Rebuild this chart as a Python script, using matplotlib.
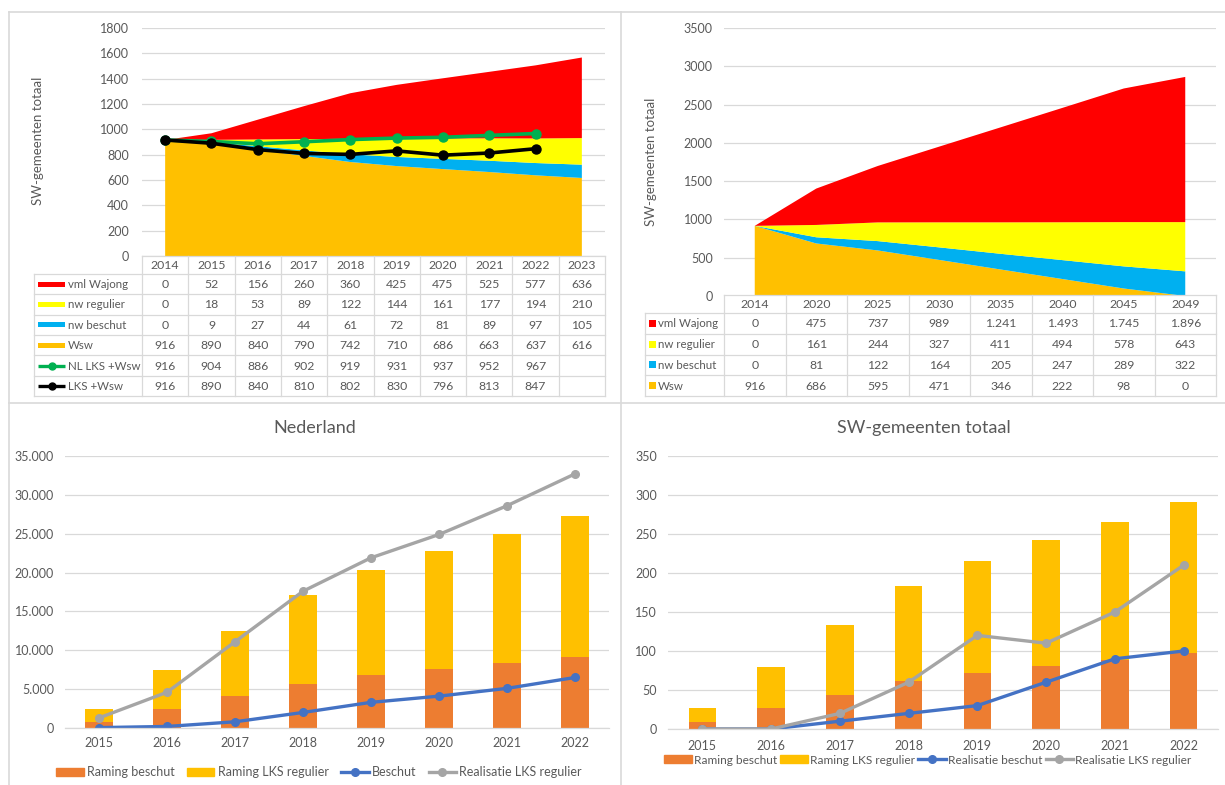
import numpy as np
import matplotlib
matplotlib.use("Agg")
import matplotlib.pyplot as plt
from matplotlib.lines import Line2D
from matplotlib.patches import Rectangle

W, H = 1225, 785
plt.rcParams['font.family'] = ['Lato', 'DejaVu Sans']

GRID = '#d9d9d9'
TXT = '#595959'
RED, YEL, BLUE, GOLD = '#FF0000', '#FFFF00', '#00B0F0', '#FFC000'
ORANGE, LBLUE, GREY = '#ED7D31', '#4472C4', '#A5A5A5'

# --- top left: SW-gemeenten totaal t/m 2023
years_tl = ['2014', '2015', '2016', '2017', '2018', '2019', '2020', '2021', '2022', '2023']
wajong_tl = [0, 52, 156, 260, 360, 425, 475, 525, 577, 636]
regulier_tl = [0, 18, 53, 89, 122, 144, 161, 177, 194, 210]
beschut_tl = [0, 9, 27, 44, 61, 72, 81, 89, 97, 105]
wsw_tl = [916, 890, 840, 790, 742, 710, 686, 663, 637, 616]
nl_lks_wsw = [916, 904, 886, 902, 919, 931, 937, 952, 967, None]
lks_wsw = [916, 890, 840, 810, 802, 830, 796, 813, 847, None]

# --- top right: SW-gemeenten totaal t/m 2049
years_tr = ['2014', '2020', '2025', '2030', '2035', '2040', '2045', '2049']
wajong_tr = [0, 475, 737, 989, 1241, 1493, 1745, 1896]
regulier_tr = [0, 161, 244, 327, 411, 494, 578, 643]
beschut_tr = [0, 81, 122, 164, 205, 247, 289, 322]
wsw_tr = [916, 686, 595, 471, 346, 222, 98, 0]

# --- bottom: raming vs realisatie
years_b = ['2015', '2016', '2017', '2018', '2019', '2020', '2021', '2022']
nl_raming_beschut = [800, 2500, 4100, 5700, 6800, 7600, 8300, 9100]
nl_raming_regulier = [1700, 4900, 8400, 11400, 13500, 15200, 16700, 18200]
nl_beschut = [50, 200, 800, 2000, 3300, 4100, 5100, 6500]
nl_realisatie = [1300, 4600, 11100, 17600, 21900, 24900, 28600, 32700]

sw_raming_beschut = [9, 27, 44, 61, 72, 81, 89, 97]
sw_raming_regulier = [18, 53, 89, 122, 144, 161, 177, 194]
sw_real_beschut = [0, 0, 10, 20, 30, 60, 90, 100]
sw_real_regulier = [0, 0, 20, 60, 120, 110, 150, 210]


def nl_fmt(v):
    return f"{v:,}".replace(",", ".")


def px_axes(fig, x0, y0, x1, y1):
    return fig.add_axes([x0 / W, 1 - y1 / H, (x1 - x0) / W, (y1 - y0) / H])


def style_chart(ax, ypad, xpad=7):
    for s in ax.spines.values():
        s.set_visible(False)
    ax.grid(axis='y', color=GRID, lw=0.9)
    ax.set_axisbelow(True)
    ax.tick_params(length=0, labelsize=9, labelcolor=TXT)
    ax.tick_params(axis='y', pad=ypad)
    ax.tick_params(axis='x', pad=xpad)


def data_table(fig, x_leg, x0, x1, y0, y1, header_h, col_labels, rows, sym_kind):
    # rows: (name, values, colour, marker-line?)
    n = len(col_labels)
    col_w = (x1 - x0) / n
    leg_u = (x0 - x_leg) / col_w
    ax = px_axes(fig, x_leg, y0, x1, y1)
    ax.set_xlim(-0.5 - leg_u, n - 0.5)
    ax.set_ylim(y1 - y0, 0)
    ax.axis('off')
    row_h = (y1 - y0 - header_h) / len(rows)
    left = -0.5 - leg_u
    kw = dict(color=GRID, lw=0.9, clip_on=False)
    ax.plot([-0.5, n - 0.5], [0, 0], **kw)
    for r in range(len(rows) + 1):
        yy = header_h + r * row_h
        ax.plot([left, n - 0.5], [yy, yy], **kw)
    ax.plot([left, left], [header_h, y1 - y0], **kw)
    for k in range(n + 1):
        ax.plot([k - 0.5, k - 0.5], [0, y1 - y0], **kw)
    for i, lab in enumerate(col_labels):
        ax.text(i, header_h / 2 + 0.5, lab, ha='center', va='center', fontsize=8.8, color=TXT)
    for r, (name, vals, col, line) in enumerate(rows):
        yc = header_h + (r + 0.5) * row_h
        if sym_kind == 'long':
            sx0, sx1, tx = left + 4 / col_w, left + 31 / col_w, left + 34 / col_w
            if line:
                ax.plot([sx0, sx1], [yc, yc], color=col, lw=2.4, solid_capstyle='butt')
                ax.plot([(sx0 + sx1) / 2], [yc], 'o', color=col, ms=5)
            else:
                ax.add_patch(Rectangle((sx0, yc - 2.5), sx1 - sx0, 5, color=col, lw=0))
        else:
            sx0, tx = left + 4 / col_w, left + 13 / col_w
            ax.add_patch(Rectangle((sx0, yc - 3.5), 7 / col_w, 7, color=col, lw=0))
        ax.text(tx, yc + 0.5, name, ha='left', va='center', fontsize=8.3, color=TXT)
        for i, v in enumerate(vals):
            if v is None:
                continue
            ax.text(i, yc + 0.5, nl_fmt(v), ha='center', va='center', fontsize=8.8, color=TXT)


fig = plt.figure(figsize=(W / 100, H / 100), dpi=100)
fig.patch.set_facecolor('white')

# panel borders
border = fig.add_axes([0, 0, 1, 1], zorder=-5)
border.set_xlim(0, W)
border.set_ylim(H, 0)
border.axis('off')
bk = dict(color=GRID, lw=1.2)
border.plot([9, W], [12, 12], **bk)
border.plot([9, 9], [12, H], **bk)
border.plot([621, 621], [12, H], **bk)
border.plot([9, W], [403, 403], **bk)

# ---------- top left
ax1 = px_axes(fig, 142, 28, 605, 256)
x1 = np.arange(len(years_tl))
ax1.stackplot(x1, wsw_tl, beschut_tl, regulier_tl, wajong_tl,
              colors=[GOLD, BLUE, YEL, RED], lw=0)
ax1.plot(x1, np.array(nl_lks_wsw, dtype=float), '-o', color='#00B050', lw=2.6, ms=6.5)
ax1.plot(x1, np.array(lks_wsw, dtype=float), '-o', color='black', lw=2.6, ms=6.5)
ax1.set_xlim(-0.5, len(years_tl) - 0.5)
ax1.set_ylim(0, 1800)
ax1.set_yticks(range(0, 1801, 200))
ax1.set_xticks([])
style_chart(ax1, 9.4)
fig.text(38 / W, 1 - 141 / H, 'SW-gemeenten totaal', rotation=90, ha='center', va='center',
         fontsize=9.5, color=TXT)
data_table(fig, 34, 142, 605, 256, 396, 18, years_tl, [
    ('vml Wajong', wajong_tl, RED, False),
    ('nw regulier', regulier_tl, YEL, False),
    ('nw beschut', beschut_tl, BLUE, False),
    ('Wsw', wsw_tl, GOLD, False),
    ('NL LKS +Wsw', nl_lks_wsw, '#00B050', True),
    ('LKS +Wsw', lks_wsw, 'black', True),
], 'long')

# ---------- top right
ax2 = px_axes(fig, 724, 28, 1216, 296)
x2 = np.arange(len(years_tr))
ax2.stackplot(x2, wsw_tr, beschut_tr, regulier_tr, wajong_tr,
              colors=[GOLD, BLUE, YEL, RED], lw=0)
ax2.set_xlim(-0.5, len(years_tr) - 0.5)
ax2.set_ylim(0, 3500)
ax2.set_yticks(range(0, 3501, 500))
ax2.set_xticks([])
style_chart(ax2, 8)
fig.text(651 / W, 1 - 162 / H, 'SW-gemeenten totaal', rotation=90, ha='center', va='center',
         fontsize=9.5, color=TXT)
data_table(fig, 645, 724, 1216, 295, 396, 18, years_tr, [
    ('vml Wajong', wajong_tr, RED, False),
    ('nw regulier', regulier_tr, YEL, False),
    ('nw beschut', beschut_tr, BLUE, False),
    ('Wsw', wsw_tr, GOLD, False),
], 'square')


# ---------- bottom
def bar_line_chart(ax, beschut, regulier, line1, line2, ymax, step, fmt, xpad):
    xb = np.arange(len(years_b))
    ax.bar(xb, beschut, width=0.4, color=ORANGE)
    ax.bar(xb, regulier, width=0.4, bottom=beschut, color=GOLD)
    ax.plot(xb, line1, '-o', color=LBLUE, lw=2.4, ms=5.5)
    ax.plot(xb, line2, '-o', color=GREY, lw=2.4, ms=5.5)
    ax.set_xlim(-0.5, len(years_b) - 0.5)
    ax.set_ylim(0, ymax)
    ax.set_yticks(range(0, ymax + 1, step))
    ax.set_yticklabels([fmt(v) for v in range(0, ymax + 1, step)])
    ax.set_xticks(xb)
    ax.set_xticklabels(years_b)
    style_chart(ax, 8, xpad)
    ax.spines['bottom'].set_visible(True)
    ax.spines['bottom'].set_color(GRID)
    ax.spines['bottom'].set_linewidth(0.9)


def legend_handles(line1_name):
    return [Rectangle((0, 0), 1, 1, color=ORANGE), Rectangle((0, 0), 1, 1, color=GOLD),
            Line2D([], [], color=LBLUE, lw=2.4, marker='o', ms=5.5),
            Line2D([], [], color=GREY, lw=2.4, marker='o', ms=5.5)], \
        ['Raming beschut', 'Raming LKS regulier', line1_name, 'Realisatie LKS regulier']


ax3 = px_axes(fig, 65, 456, 609, 728)
bar_line_chart(ax3, nl_raming_beschut, nl_raming_regulier, nl_beschut, nl_realisatie,
               35000, 5000, nl_fmt, 6.5)
fig.text(315 / W, 1 - 428 / H, 'Nederland', ha='center', va='center', fontsize=13, color=TXT)
h, l = legend_handles('Beschut')
fig.legend(h, l, loc='center', bbox_to_anchor=(319 / W, 1 - 772 / H), ncol=4, frameon=False,
           fontsize=9, labelcolor=TXT, handlelength=2.2, handleheight=0.6,
           handletextpad=0.25, columnspacing=1.0)

ax4 = px_axes(fig, 668, 456, 1218, 729)
bar_line_chart(ax4, sw_raming_beschut, sw_raming_regulier, sw_real_beschut, sw_real_regulier,
               350, 50, str, 8)
fig.text(924 / W, 1 - 428 / H, 'SW-gemeenten totaal', ha='center', va='center', fontsize=13,
         color=TXT)
h, l = legend_handles('Realisatie beschut')
fig.legend(h, l, loc='center', bbox_to_anchor=(928 / W, 1 - 760 / H), ncol=4, frameon=False,
           fontsize=8.6, labelcolor=TXT, handlelength=2.3, handleheight=0.6,
           handletextpad=0.2, columnspacing=0.25)

fig.savefig('out.png', dpi=100, facecolor='white')
